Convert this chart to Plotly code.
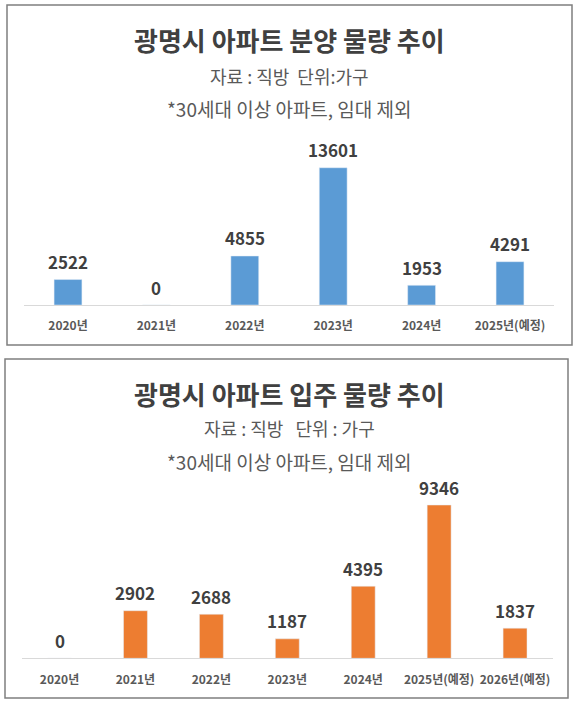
import plotly.graph_objects as go

# 분양 물량 (위 차트)
sale_years = ['2020년', '2021년', '2022년', '2023년', '2024년', '2025년(예정)']
sale_values = [2522, 0, 4855, 13601, 1953, 4291]

# 입주 물량 (아래 차트)
move_years = ['2020년', '2021년', '2022년', '2023년', '2024년', '2025년(예정)', '2026년(예정)']
move_values = [0, 2902, 2688, 1187, 4395, 9346, 1837]

W, H = 580, 704
FONT = 'Noto Sans CJK KR'


def px_x(v):
    return v / W


def px_y(v):
    return 1 - v / H


fig = go.Figure()

fig.add_trace(go.Bar(x=sale_years, y=sale_values, marker_color='#5B9BD5',
                     xaxis='x', yaxis='y', hoverinfo='x+y'))
fig.add_trace(go.Bar(x=move_years, y=move_values, marker_color='#ED7D31',
                     xaxis='x2', yaxis='y2', hoverinfo='x+y'))

annotations = []
# 값 라벨
for cat, val in zip(sale_years, sale_values):
    annotations.append(dict(x=cat, y=val, xref='x', yref='y', text=str(val),
                            showarrow=False, yanchor='middle', yshift=18,
                            font=dict(family=FONT, size=17, color='#404040', weight='bold')))
for cat, val in zip(move_years, move_values):
    annotations.append(dict(x=cat, y=val, xref='x2', yref='y2', text=str(val),
                            showarrow=False, yanchor='middle', yshift=18,
                            font=dict(family=FONT, size=17, color='#404040', weight='bold')))

# 제목과 부제목
titles = [
    ('광명시 아파트 분양 물량 추이', 40, 26, '#404040', 'bold'),
    ('자료 : 직방  단위:가구', 76, 18, '#595959', 'normal'),
    ('*30세대 이상 아파트, 임대 제외', 108, 19, '#595959', 'normal'),
    ('광명시 아파트 입주 물량 추이', 393, 26, '#404040', 'bold'),
    ('자료 : 직방   단위 : 가구', 428, 18, '#595959', 'normal'),
    ('*30세대 이상 아파트, 임대 제외', 461, 19, '#595959', 'normal'),
]
for text, ypos, size, color, weight in titles:
    annotations.append(dict(x=px_x(289), y=px_y(ypos), xref='paper', yref='paper',
                            text=text, showarrow=False, xanchor='center', yanchor='middle',
                            font=dict(family=FONT, size=size, color=color, weight=weight)))

# 패널 테두리
shapes = [
    dict(type='rect', xref='paper', yref='paper',
         x0=px_x(7), x1=px_x(572), y0=px_y(345), y1=px_y(5),
         line=dict(color='#7f7f7f', width=1.5)),
    dict(type='rect', xref='paper', yref='paper',
         x0=px_x(5), x1=px_x(568), y0=px_y(698), y1=px_y(359),
         line=dict(color='#7f7f7f', width=1.5)),
]

tick_font = dict(family=FONT, size=12, color='#595959', weight='bold')

fig.update_layout(
    width=W, height=H,
    margin=dict(l=0, r=0, t=0, b=0),
    paper_bgcolor='white', plot_bgcolor='white',
    showlegend=False,
    bargap=0.685,
    annotations=annotations,
    shapes=shapes,
    xaxis=dict(domain=[px_x(23.8), px_x(554.2)], anchor='y', showline=True,
               linecolor='#d9d9d9', linewidth=1, ticks='', tickfont=tick_font,
               tickangle=0, automargin=False, ticklabelstandoff=10, fixedrange=True),
    yaxis=dict(domain=[px_y(305), px_y(153.6)], anchor='x', range=[0, 15000],
               visible=False, showgrid=False, fixedrange=True),
    xaxis2=dict(domain=[px_x(21.6), px_x(553)], anchor='y2', showline=True,
                linecolor='#d9d9d9', linewidth=1, ticks='', tickfont=tick_font,
                tickangle=0, automargin=False, ticklabelstandoff=10, fixedrange=True),
    yaxis2=dict(domain=[px_y(658.3), px_y(486.1)], anchor='x2', range=[0, 10500],
                visible=False, showgrid=False, fixedrange=True),
)

# 브라우저 기본 여백 제거
fig.write_html("out.html", config={'displayModeBar': False},
               post_script="document.body.style.margin = '0';")
